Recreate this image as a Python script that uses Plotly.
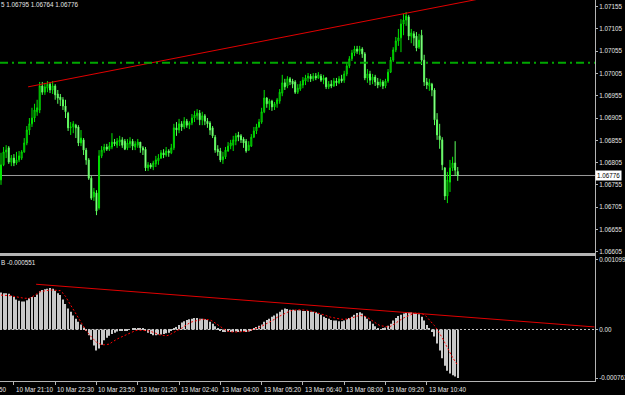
import plotly.graph_objects as go

# ---------------- data ----------------
BASE = 1.06          # prices below are given in points (1e-5) above BASE
open_pts = [766,800,829,838,806,815,804,811,815,829,
            849,878,892,905,919,923,977,963,972,981,
            968,977,959,952,946,932,916,883,885,889,
            885,849,856,833,811,770,728,737,703,820,
            833,840,835,840,851,844,851,856,853,838,
            847,853,840,844,851,838,835,793,800,795,
            802,809,815,827,822,831,827,838,883,878,
            892,885,898,889,894,905,910,916,901,910,
            898,894,883,862,835,831,811,818,831,842,
            844,853,867,865,858,853,833,842,862,876,
            885,896,919,950,937,943,930,937,943,961,
            984,977,993,988,986,963,970,979,988,995,
            999,993,999,995,999,990,995,975,981,977,
            988,984,993,990,1004,1022,1038,1051,1060,1055,
            1060,1049,995,1004,990,997,986,979,986,977,
            988,1008,1035,1058,1078,1085,1116,1125,1132,1089,
            1094,1089,1064,1091,1035,986,977,981,968,901,
            865,856,793,730,761,793,804,785]
high_pts = [827,840,844,842,822,824,829,831,833,860,
            887,905,928,937,946,986,986,984,988,986,
            988,981,968,959,952,946,919,896,898,892,
            889,878,860,838,815,775,748,743,833,842,
            847,847,851,871,858,860,865,862,858,858,
            862,858,853,858,851,842,840,806,804,809,
            820,824,833,835,840,835,847,892,896,903,
            898,907,903,898,914,921,925,923,919,914,
            905,898,887,867,844,838,829,840,851,856,
            865,871,874,869,862,858,853,869,885,892,
            903,928,968,952,948,946,941,950,970,1002,
            993,999,997,993,990,981,988,997,1002,1006,
            1004,1006,1006,1008,1004,1002,997,988,990,995,
            995,999,1002,1011,1029,1044,1058,1067,1067,1067,
            1064,1053,1015,1011,1004,1002,995,993,990,993,
            1015,1042,1064,1087,1105,1127,1139,1143,1136,1105,
            1100,1098,1094,1103,1047,995,993,984,972,916,
            892,862,795,784,811,818,853,795]
low_pts = [755,797,815,802,797,797,800,806,811,827,
           844,867,885,896,910,916,957,957,963,961,
           959,946,937,932,923,905,876,867,871,860,
           842,842,822,800,766,721,719,687,699,815,
           827,831,831,835,842,838,842,838,833,833,
           838,833,833,838,827,822,786,786,791,788,
           795,800,813,815,818,818,824,833,865,871,
           876,880,883,880,889,896,901,889,889,889,
           883,867,860,827,820,806,802,813,829,835,
           831,844,853,849,838,827,831,840,860,869,
           883,892,916,928,923,921,923,928,937,954,
           968,972,979,972,959,959,966,972,979,986,
           986,988,990,993,986,981,970,970,972,975,
           977,981,984,984,999,1017,1033,1044,1049,1047,
           1040,990,984,979,981,977,972,975,970,972,
           984,1006,1031,1053,1067,1053,1091,1112,1080,1073,
           1067,1055,1060,1024,977,970,966,954,889,856,
           836,788,721,714,739,786,775,764]
close_pts = [800,829,833,806,815,804,811,820,829,849,
             878,892,905,923,928,977,963,975,981,968,
             977,957,950,946,932,919,883,885,892,883,
             849,860,833,811,770,725,739,696,820,833,
             840,835,842,851,847,853,856,844,835,849,
             853,842,847,851,838,833,793,800,795,804,
             811,815,827,822,831,827,838,883,878,892,
             885,898,889,894,905,912,916,901,910,898,
             892,878,865,833,829,811,818,833,842,849,
             856,865,862,856,849,831,844,862,876,885,
             896,919,950,937,943,930,937,946,963,984,
             975,993,986,981,963,972,981,990,995,999,
             993,999,995,1002,990,995,975,981,977,988,
             984,993,988,1004,1022,1038,1051,1060,1055,1060,
             1049,995,1004,990,997,986,979,986,977,988,
             1008,1035,1058,1078,1085,1116,1125,1134,1089,1096,
             1085,1062,1080,1035,986,979,984,968,901,867,
             856,800,730,766,793,804,788,776]

# MACD histogram and signal, in units of 1e-5
macd_hist = [58,57,57,56,53,51,47,45,44,44,
             46,49,51,51,55,60,62,63,64,65,
             64,61,57,54,47,40,33,28,22,17,
             12,8,3,-2,-9,-16,-25,-33,-30,-24,
             -17,-13,-10,-7,-5,-3,-2,-1,-2,-1,
             0,1,1,2,1,1,-2,-5,-7,-9,
             -9,-8,-8,-7,-6,-5,-2,2,4,7,
             11,13,15,16,17,18,18,17,17,16,
             15,12,9,5,1,-2,-4,-4,-3,-4,
             -4,-3,-4,-3,-3,-4,-3,-1,2,4,
             6,8,12,15,17,20,22,25,28,31,
             33,32,31,31,30,30,30,29,29,29,
             28,28,27,25,23,20,18,17,15,14,
             14,13,13,14,16,18,20,23,26,27,
             25,21,17,13,9,5,2,0,1,3,
             6,9,14,18,21,23,25,26,27,27,
             26,26,24,20,14,7,1,-4,-11,-22,
             -33,-45,-57,-65,-69,-72,-74,-76]
macd_signal = [54,54,54,53,53,52,51,50,49,49,
               49,49,51,54,57,59,60,61,62,62,
               62,62,62,61,57,52,45,38,31,24,
               17,10,4,-2,-7,-12,-16,-20,-22,-24,
               -24,-24,-23,-20,-17,-15,-13,-11,-9,-7,
               -5,-3,-2,-1,-1,-1,-1,-2,-3,-4,
               -6,-8,-9,-10,-10,-9,-7,-5,-3,-1,
               2,5,8,10,12,13,15,16,16,16,
               16,15,13,10,7,4,1,-1,-3,-4,
               -4,-4,-4,-4,-4,-3,-2,-1,0,1,
               3,5,7,9,11,14,16,19,21,23,
               26,28,29,30,31,31,31,31,31,30,
               29,28,27,26,25,23,22,20,19,18,
               17,16,16,16,16,17,18,20,21,22,
               22,21,19,16,13,10,8,6,5,4,
               4,5,7,10,13,16,18,20,22,24,
               25,26,26,25,23,20,15,11,6,0,
               -6,-13,-21,-29,-37,-44,-50,-56]

time_tick_idx = [5,21,37,53,69,85,101,117,133,149,165]
time_tick_txt = ["10 Mar 21:10","10 Mar 22:30","10 Mar 23:50","13 Mar 01:20",
                 "13 Mar 02:40","13 Mar 04:00","13 Mar 05:20","13 Mar 06:40",
                 "13 Mar 08:00","13 Mar 09:20","13 Mar 10:40"]
prev_time_label = "10 Mar 19:50"

price_ticks = [1.07155,1.07105,1.07055,1.07005,1.06955,1.06905,1.06855,
               1.06805,1.06755,1.06705,1.06655,1.06605]
price_tick_txt = ["1.07155","1.07105","1.07055","1.07005","1.06955","1.06905",
                  "1.06855","1.06805","1.06755","1.06705","1.06655","1.06605"]
ind_ticks = [0.001099, 0.0, -0.000763]
ind_tick_txt = ["0.001099", "0.00", "-0.000763"]

hline_level = 1.07029          # green dash-dot level
price_trend_x = [10.5, 189.5]
price_trend_y = [1.06975, 1.07177]
ind_trend_x = [13.6, 230.0]
ind_trend_y = [0.00071, 0.00004]

header_text = "5 1.06795 1.06764 1.06776"
ind_label = "B -0.000551"
last_price_txt = "1.06776"

# ---------------- build ----------------
n = len(close_pts)
idx = list(range(n))
to_price = lambda a: [BASE + v / 1e5 for v in a]
O, H, L, C = to_price(open_pts), to_price(high_pts), to_price(low_pts), to_price(close_pts)
hist = [v / 1e5 for v in macd_hist]
sig = [v / 1e5 for v in macd_signal]
last_close = C[-1]

FONT = "Liberation Sans, Arial, sans-serif"
FS = 6.3
TXT = "#e6e6e6"
AX = "#b4b4b4"

fig = go.Figure()
fig.add_trace(go.Candlestick(
    x=idx, open=O, high=H, low=L, close=C, xaxis="x", yaxis="y",
    increasing=dict(line=dict(color="#00e600", width=1), fillcolor="#000000"),
    decreasing=dict(line=dict(color="#5cff5c", width=1), fillcolor="#ffffff"),
    whiskerwidth=0, showlegend=False, hoverinfo="skip"))
fig.add_trace(go.Scatter(x=price_trend_x, y=price_trend_y, mode="lines",
                         line=dict(color="#e00000", width=1), xaxis="x", yaxis="y",
                         showlegend=False, hoverinfo="skip"))
fig.add_trace(go.Bar(x=idx, y=hist, width=0.42, marker=dict(color="#c8c8c8", line=dict(width=0)),
                     xaxis="x2", yaxis="y2", showlegend=False, hoverinfo="skip"))
fig.add_trace(go.Scatter(x=idx, y=sig, mode="lines",
                         line=dict(color="#ff0000", width=1, dash="2px,2px"),
                         xaxis="x2", yaxis="y2", showlegend=False, hoverinfo="skip"))
fig.add_trace(go.Scatter(x=ind_trend_x, y=ind_trend_y, mode="lines",
                         line=dict(color="#e00000", width=1), xaxis="x2", yaxis="y2",
                         showlegend=False, hoverinfo="skip"))

shapes = [
    dict(type="line", xref="paper", x0=0, x1=1, yref="y", y0=last_close, y1=last_close,
         line=dict(color="#9a9a9a", width=1), layer="below"),
    dict(type="line", xref="paper", x0=0, x1=1, yref="y", y0=hline_level, y1=hline_level,
         line=dict(color="#00a800", width=2, dash="8px,4px,2px,4px"), layer="above"),
    dict(type="line", xref="paper", x0=0, x1=1, yref="y2", y0=0, y1=0,
         line=dict(color="#c8c8c8", width=1, dash="2px,2px"), layer="below"),
]

annotations = [
    dict(xref="paper", yref="paper", x=0, y=1, xanchor="left", yanchor="top",
         text=header_text, showarrow=False, font=dict(family=FONT, size=FS, color=TXT),
         xshift=-1, yshift=1),
    dict(xref="paper", yref="y2 domain", x=0, y=1, xanchor="left", yanchor="top",
         text=ind_label, showarrow=False, font=dict(family=FONT, size=FS, color=TXT),
         xshift=-1, yshift=-1),
    dict(xref="paper", yref="y", x=1, y=last_close, xanchor="left", yanchor="middle",
         text=last_price_txt, showarrow=False, bgcolor="#ffffff",
         font=dict(family=FONT, size=FS, color="#000000"), borderpad=1, xshift=0),
    dict(xref="paper", yref="paper", x=0, y=0, xanchor="right", yanchor="top",
         text=prev_time_label, showarrow=False, font=dict(family=FONT, size=FS, color=TXT),
         xshift=9, yshift=-3),
]
for t, s in zip(time_tick_idx, time_tick_txt):
    annotations.append(dict(xref="x2", yref="paper", x=t, y=0, xanchor="left", yanchor="top",
                            text=s, showarrow=False, font=dict(family=FONT, size=FS, color=TXT),
                            xshift=0, yshift=-3))

fig.update_layout(
    width=625, height=395, margin=dict(l=0, r=30, t=0, b=14),
    paper_bgcolor="#000000", plot_bgcolor="#000000",
    showlegend=False, hovermode=False, barmode="overlay", boxgap=0.45,
    shapes=shapes, annotations=annotations,
    xaxis=dict(domain=[0, 1], range=[-0.39, 230.2], anchor="y", showline=True,
               linecolor=AX, linewidth=2, showgrid=False, zeroline=False,
               showticklabels=False, ticks="", rangeslider=dict(visible=False), fixedrange=True),
    xaxis2=dict(domain=[0, 1], matches="x", anchor="y2", showline=True, mirror=True,
                linecolor=AX, linewidth=1, showgrid=False, zeroline=False,
                tickvals=time_tick_idx, showticklabels=False, ticks="outside",
                ticklen=3, tickcolor=AX),
    yaxis=dict(domain=[0.336, 1], range=[1.06602, 1.07170], side="right", anchor="x",
               showline=True, linecolor=AX, linewidth=1, showgrid=False, zeroline=False,
               tickvals=price_ticks, ticktext=price_tick_txt, ticks="outside", ticklen=2,
               tickcolor=AX, tickfont=dict(family=FONT, size=FS, color=TXT), automargin=False),
    yaxis2=dict(domain=[0, 0.3281], range=[-0.000809, 0.001154], side="right", anchor="x2",
                showline=True, linecolor=AX, linewidth=1, showgrid=False, zeroline=False,
                tickvals=ind_ticks, ticktext=ind_tick_txt, ticks="outside", ticklen=2,
                tickcolor=AX, tickfont=dict(family=FONT, size=FS, color=TXT), automargin=False),
)

fig.write_html("out.html")
